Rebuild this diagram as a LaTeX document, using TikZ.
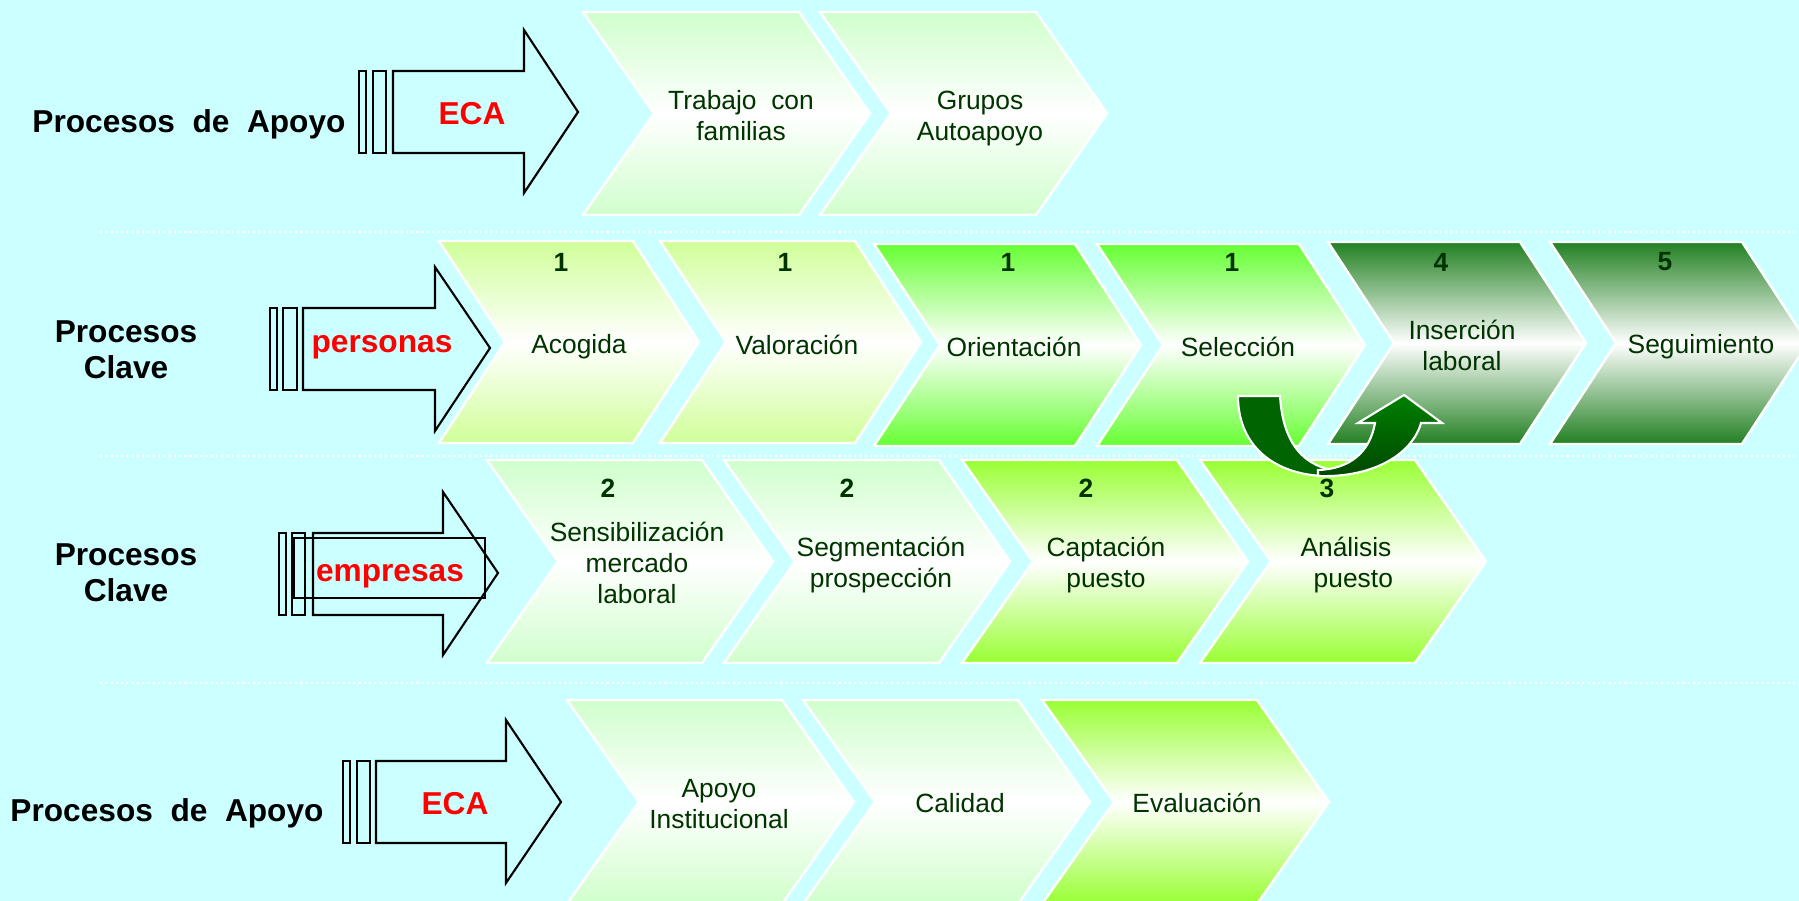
\documentclass[tikz,border=0pt]{standalone}
\usepackage{fontspec}
\setmainfont{Liberation Sans}
\definecolor{fondo}{RGB}{204,255,255}
\definecolor{verdeclaro}{RGB}{208,255,204}
\definecolor{verdeamar}{RGB}{208,255,153}
\definecolor{verdevivo}{RGB}{102,255,51}
\definecolor{verdelima}{RGB}{153,255,51}
\definecolor{verdeosc}{RGB}{34,128,34}
\definecolor{textov}{RGB}{0,51,0}
\definecolor{curvaA}{RGB}{0,100,0}
\definecolor{curvaB}{RGB}{0,128,0}
\definecolor{curvaC}{RGB}{0,70,0}

\begin{document}
\begin{tikzpicture}[x=0.01cm,y=-0.01cm,
  claro/.style={draw=white,line width=0.7pt,top color=verdeclaro,bottom color=verdeclaro,middle color=white},
  amar/.style={draw=white,line width=0.7pt,top color=verdeamar,bottom color=verdeamar,middle color=white},
  vivo/.style={draw=white,line width=0.7pt,top color=verdevivo,bottom color=verdevivo,middle color=white},
  lima/.style={draw=white,line width=0.7pt,top color=verdelima,bottom color=verdelima,middle color=white},
  oscuro/.style={draw=white,line width=0.7pt,top color=verdeosc,bottom color=verdeosc,middle color=white},
  flecha/.style={draw=black,line width=0.6pt},
  sep/.style={white,line width=0.6pt,dash pattern=on 0.6pt off 0.9pt},
  etiq/.style={font=\fontsize{9}{10.2}\selectfont\bfseries,align=center},
  rojo/.style={font=\fontsize{9}{10.8}\selectfont\bfseries,text=red},
  txt/.style={font=\fontsize{7.5}{8.8}\selectfont,text=textov,align=center},
  num/.style={font=\fontsize{7.5}{8.8}\selectfont\bfseries,text=textov}]
\useasboundingbox (0,0) rectangle (1799,901);
\fill[fondo] (0,0) rectangle (1799,901);
\clip (0,0) rectangle (1799,901);

\draw[sep] (100,232) -- (1799,232);
\draw[sep] (100,456) -- (1799,456);
\draw[sep] (100,683) -- (1799,683);

\foreach \xa in {583,820}
  \draw[claro] (\xa,12) -- ++(216,0) -- ++(71,101.5) -- ++(-71,101.5) -- ++(-216,0) -- ++(71,-101.5) -- cycle;
\foreach \xa/\w/\ya/\sty in {439/194/241/amar,660/195/241/amar,874/201/244/vivo,1097/202/244/vivo,1328/192/242/oscuro,1550/192/242/oscuro}
  \draw[\sty] (\xa,\ya) -- ++(\w,0) -- ++(66,101) -- ++(-66,101) -- ++(-\w,0) -- ++(66,-101) -- cycle;
\foreach \xa/\sty in {487/claro,724/claro,962/lima,1200/lima}
  \draw[\sty] (\xa,460) -- ++(215,0) -- ++(71,101.5) -- ++(-71,101.5) -- ++(-215,0) -- ++(71,-101.5) -- cycle;
\foreach \xa/\sty in {567/claro,803/claro,1042/lima}
  \draw[\sty] (\xa,700) -- ++(215,0) -- ++(72,102) -- ++(-72,102) -- ++(-215,0) -- ++(72,-102) -- cycle;

\draw[flecha] (359,71) rectangle (366,153);
\draw[flecha] (373,71) rectangle (386,153);
\draw[flecha] (393,71) -- (524,71) -- (524,30) -- (578,112) -- (524,193) -- (524,153) -- (393,153) -- cycle;

\draw[flecha] (270,308) rectangle (277,390);
\draw[flecha] (283,308) rectangle (297,390);
\draw[flecha] (303,308) -- (435,308) -- (435,267) -- (490,348) -- (435,431) -- (435,390) -- (303,390) -- cycle;

\draw[flecha] (279,533) rectangle (286,615);
\draw[flecha] (292,533) rectangle (305,615);
\draw[flecha] (313,533) -- (443,533) -- (443,492) -- (498,573) -- (443,655) -- (443,615) -- (313,615) -- cycle;
\draw[flecha] (294,538) rectangle (485,598);

\draw[flecha] (343,761) rectangle (350,843);
\draw[flecha] (357,761) rectangle (370,843);
\draw[flecha] (376,761) -- (506,761) -- (506,720) -- (561,802) -- (506,883) -- (506,843) -- (376,843) -- cycle;

\node[etiq,anchor=base] (apoyo1) at (189,133) {Procesos\ \ de\ \ Apoyo};
\node[rojo,anchor=base] (eca1) at (472,125) {ECA};
\node[txt] (trabajo) at (741,116) {Trabajo\ \ con\\familias};
\node[txt] (grupos) at (980,119) {Grupos\\Autoapoyo};

\node[etiq] (clave1) at (126,350) {Procesos\\Clave};
\node[rojo,anchor=base] (personas) at (382,353) {personas};
\node[num] (n1) at (561,262) {1};
\node[num] (n2) at (785,262) {1};
\node[num] (n3) at (1008,262) {1};
\node[num] (n4) at (1232,262) {1};
\node[num] (n5) at (1441,262) {4};
\node[num] (n6) at (1665,262) {5};
\node[txt] (acogida) at (579,347) {Acogida};
\node[txt] (valoracion) at (797,345) {Valoración};
\node[txt] (orientacion) at (1014,347) {Orientación};
\node[txt] (seleccion) at (1238,347) {Selección};
\node[txt] (insercion) at (1462,345) {Inserción\\laboral};
\node[txt] (seguimiento) at (1701,347) {Seguimiento};

\node[etiq] (clave2) at (126,573) {Procesos\\Clave};
\node[rojo,anchor=base] (empresas) at (390,582) {empresas};
\node[num] (m1) at (608,488) {2};
\node[num] (m2) at (847,488) {2};
\node[num] (m3) at (1086,488) {2};
\node[num] (m4) at (1327,488) {3};
\node[txt] (sensib) at (637,563) {Sensibilización\\mercado\\laboral};
\node[txt] (segment) at (881,565) {Segmentación\\prospección};
\node[txt] (captacion) at (1106,565) {Captación\\puesto};
\node[txt] (analisis) at (1346,565) {Análisis\\\ \ puesto};

\node[etiq,anchor=base] (apoyo2) at (167,822) {Procesos\ \ de\ \ Apoyo};
\node[rojo,anchor=base] (eca2) at (455,815) {ECA};
\node[txt] (institucional) at (719,804) {Apoyo\\Institucional};
\node[txt] (calidad) at (960,803) {Calidad};
\node[txt] (evaluacion) at (1197,803) {Evaluación};

\draw[white,line width=0.6pt,fill=curvaA] (1238,396) -- (1280,396) .. controls (1283,445) and (1305,468) .. (1340,471) -- (1334,476) .. controls (1280,478) and (1238,450) .. (1238,396) -- cycle;
\draw[white,line width=0.6pt,top color=curvaB,bottom color=curvaC] (1318,476) .. controls (1372,478) and (1412,455) .. (1421,423) -- (1442,423) -- (1404,395) -- (1358,423) -- (1375,423) .. controls (1370,452) and (1350,469) .. (1318,470) -- cycle;
\end{tikzpicture}
\end{document}
